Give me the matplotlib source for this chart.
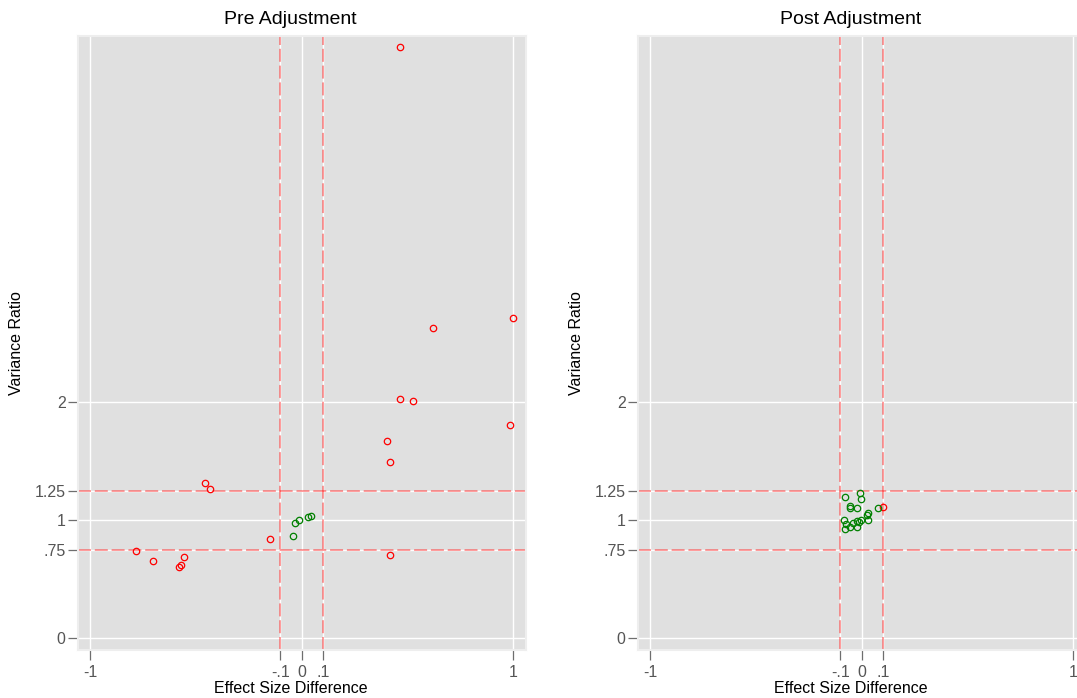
import numpy as np
import matplotlib.pyplot as plt

plt.rcParams['font.family'] = ['Liberation Sans', 'DejaVu Sans']

# Pre adjustment: effect size difference vs variance ratio
pre_x = [0.466, 0.623, 1.001, 0.464, 0.529, 0.983, 0.403, 0.420, 0.418,
         -0.455, -0.433, -0.784, -0.701, -0.554, -0.578, -0.570, -0.149,
         -0.039, -0.029, -0.010, 0.032, 0.046]
pre_y = [5.011, 2.627, 2.712, 2.028, 2.014, 1.805, 1.672, 1.494, 0.706,
         1.316, 1.263, 0.742, 0.658, 0.689, 0.602, 0.619, 0.842,
         0.869, 0.980, 1.005, 1.025, 1.039]

# Post adjustment
post_x = [-0.079, -0.009, -0.002, -0.056, -0.053, -0.021, 0.080, -0.085,
          -0.074, -0.079, -0.055, -0.039, -0.023, -0.021, -0.012, -0.001,
          0.025, 0.032, 0.030, 0.101]
post_y = [1.197, 1.234, 1.178, 1.124, 1.102, 1.102, 1.102, 1.008,
          0.969, 0.924, 0.946, 0.980, 0.994, 0.941, 0.986, 1.008,
          1.042, 1.059, 1.008, 1.115]

xticks = [-1, -0.1, 0, 0.1, 1]
xticklabels = ['-1', '-.1', '0', '.1', '1']
yticks = [0, 0.75, 1, 1.25, 2]
yticklabels = ['0', '.75', '1', '1.25', '2']
es_cut = 0.1
vr_low, vr_high = 0.75, 1.25


def balanced(x, y):
    return abs(x) <= es_cut and vr_low <= y <= vr_high


fig = plt.figure(figsize=(10.77, 6.98), dpi=100)
W, H = 1077, 698
ax1 = fig.add_axes([78 / W, 48 / H, 448 / W, 614 / H])
ax2 = fig.add_axes([638 / W, 48 / H, 448 / W, 614 / H])

for ax, xs, ys, title in [(ax1, pre_x, pre_y, 'Pre Adjustment'),
                          (ax2, post_x, post_y, 'Post Adjustment')]:
    ax.set_facecolor('#e0e0e0')
    for s in ax.spines.values():
        s.set_color('#eeeeee')
        s.set_linewidth(1.5)
    ax.set_xlim(-1.057, 1.061)
    ax.set_ylim(-0.0975, 5.104)
    ax.set_xticks(xticks)
    ax.set_xticklabels(xticklabels)
    ax.set_yticks(yticks)
    ax.set_yticklabels(yticklabels)
    ax.tick_params(axis='both', colors='#6e6e6e', labelcolor='#555555',
                   labelsize=11.5, length=7, width=0.9)
    ax.tick_params(axis='y', pad=2)
    ax.tick_params(axis='x', pad=4)
    ax.grid(True, color='white', linewidth=1.0)
    ax.set_axisbelow(True)

    for v in [-es_cut, es_cut]:
        ax.axvline(v, color='red', alpha=0.5, linewidth=1.1, dashes=(8.5, 2.5))
    for v in [vr_low, vr_high]:
        ax.axhline(v, color='red', alpha=0.5, linewidth=1.1, dashes=(8.5, 2.5))

    cols = ['green' if balanced(x, y) else 'red' for x, y in zip(xs, ys)]
    for c in ['red', 'green']:
        px = [x for x, cc in zip(xs, cols) if cc == c]
        py = [y for y, cc in zip(ys, cols) if cc == c]
        ax.plot(px, py, 'o', mfc='none', mec=c, ms=4.6, mew=0.9)

    ax.set_title(title, fontsize=14, pad=9, x=0.475)
    ax.set_xlabel('Effect Size Difference', fontsize=11.5)
    ax.set_ylabel('Variance Ratio', fontsize=11.5)
    ax.xaxis.set_label_coords(0.475, -0.05)
    ax.yaxis.set_label_coords(-0.12, 0.5)

plt.savefig('out.png', dpi=100)
